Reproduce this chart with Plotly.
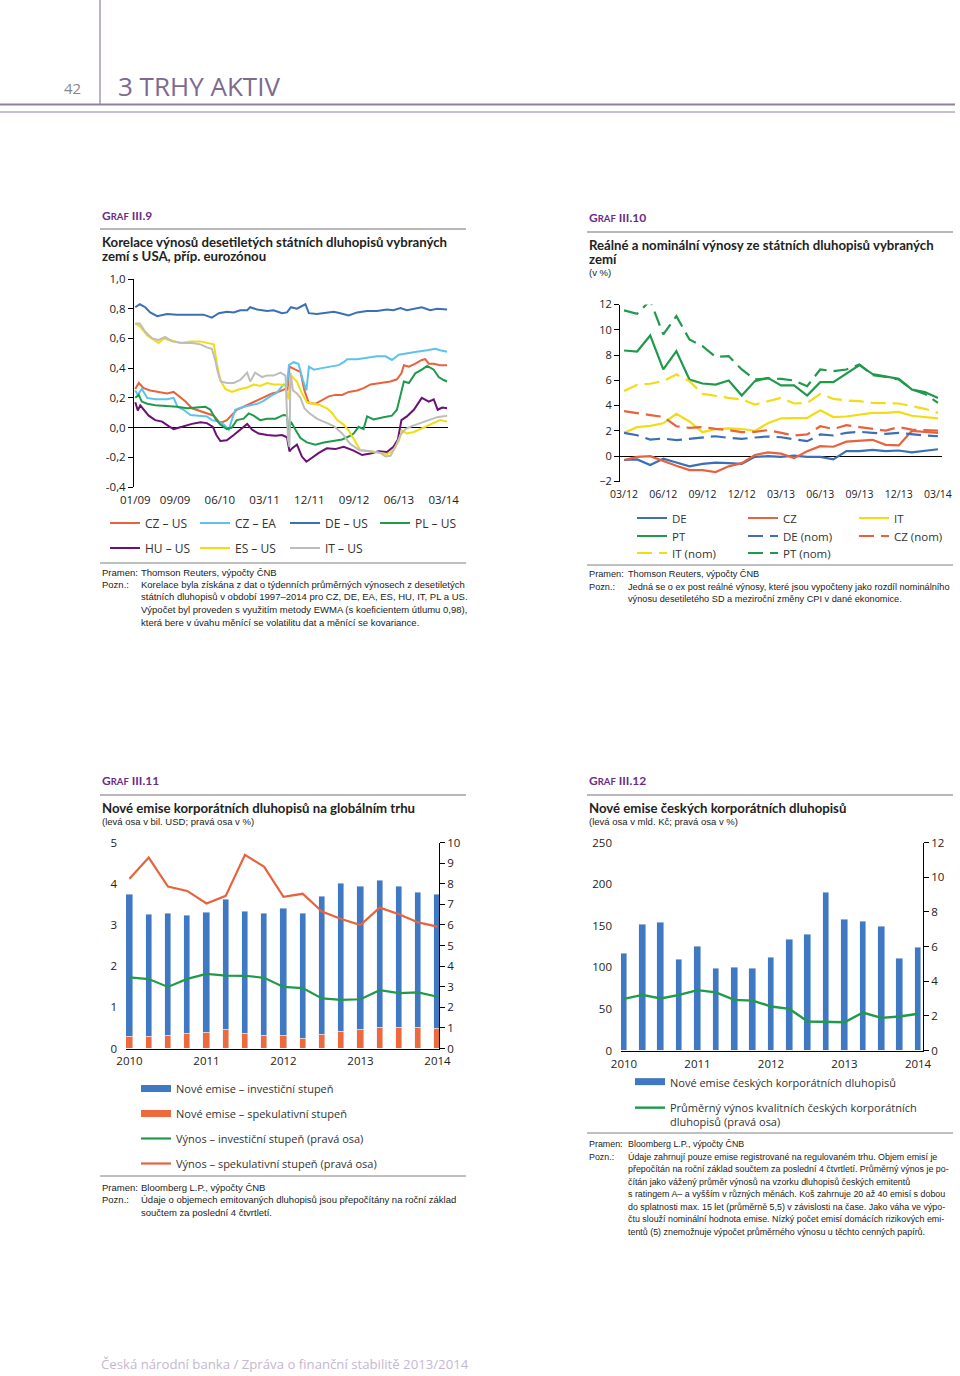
import plotly.graph_objects as go

# ---------------- Graf III.9: correlations (x = months since 01/2009) ----------------
cz_us_m = [0, 0.7, 1.7, 3.0, 4.7, 6.4, 7.7, 8.9, 10.1, 11.4, 13.1, 14.4, 15.8, 16.8, 17.4, 18.4, 19.4, 20.4, 21.8, 23.1, 24.8, 26.1, 27.5, 28.8, 30.2, 30.6, 31.0, 32.2, 33.2, 34.0, 34.9, 36.2, 37.5, 38.9, 40.2, 41.6, 42.9, 44.6, 45.9, 47.3, 49.3, 51.3, 52.6, 53.5, 54.0, 55.0, 56.3, 57.6, 58.3, 59.0, 60.0, 61.3, 62.7]
cz_us = [0.26, 0.30, 0.265, 0.25, 0.24, 0.23, 0.24, 0.21, 0.175, 0.13, 0.11, 0.10, 0.08, 0.04, 0.035, 0.05, 0.085, 0.12, 0.14, 0.16, 0.19, 0.21, 0.23, 0.24, 0.26, 0.25, 0.41, 0.39, 0.375, 0.25, 0.165, 0.16, 0.185, 0.21, 0.22, 0.22, 0.24, 0.25, 0.265, 0.29, 0.30, 0.31, 0.325, 0.365, 0.42, 0.41, 0.43, 0.455, 0.46, 0.43, 0.43, 0.42, 0.42]

cz_ea_m = [0, 0.5, 1.3, 2.4, 4.0, 6.4, 7.7, 8.5, 9.7, 11.1, 12.7, 14.4, 15.4, 16.8, 17.8, 18.8, 19.4, 20.1, 21.8, 23.1, 24.5, 25.8, 27.1, 28.5, 29.8, 30.5, 30.9, 31.8, 32.8, 33.7, 34.4, 34.9, 35.9, 37.5, 39.2, 40.9, 41.9, 42.6, 44.6, 46.6, 48.6, 50.3, 51.6, 53.0, 54.6, 56.6, 58.7, 60.3, 61.3, 62.7]
cz_ea = [0.25, 0.22, 0.26, 0.20, 0.19, 0.19, 0.20, 0.14, 0.12, 0.085, 0.08, 0.075, 0.05, 0.04, 0.02, -0.015, 0.05, 0.12, 0.14, 0.15, 0.16, 0.18, 0.21, 0.235, 0.29, 0.28, 0.42, 0.44, 0.43, 0.32, 0.25, 0.41, 0.39, 0.40, 0.41, 0.42, 0.44, 0.46, 0.46, 0.47, 0.48, 0.48, 0.455, 0.49, 0.50, 0.51, 0.52, 0.53, 0.52, 0.51]

de_us_m = [0, 0.9, 2.0, 3.0, 4.4, 5.4, 6.4, 8.4, 10.4, 12.4, 13.7, 15.4, 16.8, 18.4, 19.8, 21.1, 22.5, 23.1, 24.5, 26.5, 27.8, 29.5, 30.5, 31.3, 32.5, 34.2, 34.9, 36.5, 38.5, 39.9, 41.2, 42.9, 44.6, 46.6, 48.6, 50.6, 51.9, 53.3, 54.6, 56.3, 57.6, 59.3, 60.7, 62.7]
de_us = [0.81, 0.83, 0.81, 0.775, 0.75, 0.76, 0.765, 0.76, 0.76, 0.765, 0.76, 0.74, 0.77, 0.78, 0.775, 0.79, 0.79, 0.81, 0.795, 0.785, 0.79, 0.77, 0.775, 0.81, 0.80, 0.83, 0.77, 0.765, 0.775, 0.78, 0.77, 0.755, 0.775, 0.785, 0.785, 0.795, 0.79, 0.805, 0.79, 0.80, 0.81, 0.79, 0.80, 0.795]

pl_us_m = [0, 0.7, 1.3, 2.4, 4.0, 6.4, 8.4, 10.4, 12.4, 14.1, 15.1, 16.1, 17.1, 18.4, 19.4, 20.4, 21.8, 22.8, 23.8, 25.1, 26.5, 28.2, 29.8, 30.5, 30.8, 31.3, 32.2, 33.2, 34.5, 36.2, 37.9, 39.9, 41.6, 42.9, 43.9, 44.9, 45.9, 46.6, 47.9, 49.9, 51.6, 52.6, 53.2, 54.0, 55.0, 56.3, 57.6, 58.7, 60.0, 61.0, 62.0, 62.7]
pl_us = [0.20, 0.22, 0.175, 0.16, 0.15, 0.145, 0.14, 0.13, 0.135, 0.14, 0.12, 0.06, 0.02, -0.01, 0.00, 0.05, 0.06, 0.095, 0.08, 0.05, 0.06, 0.06, 0.085, 0.08, -0.04, 0.04, -0.015, -0.07, -0.10, -0.115, -0.10, -0.09, -0.08, -0.06, -0.04, 0.005, -0.01, 0.075, 0.055, 0.07, 0.08, 0.12, 0.21, 0.31, 0.30, 0.365, 0.39, 0.415, 0.39, 0.34, 0.32, 0.31]

hu_us_m = [0, 0.5, 1.0, 1.7, 2.7, 4.0, 5.4, 6.7, 7.7, 9.4, 11.4, 13.1, 14.4, 15.6, 16.3, 17.1, 18.4, 19.8, 21.1, 22.5, 23.5, 24.8, 26.5, 28.2, 29.5, 30.5, 31.0, 31.5, 32.5, 33.5, 34.4, 35.5, 36.9, 38.5, 40.2, 41.9, 43.9, 45.6, 47.3, 48.9, 50.6, 51.9, 52.8, 53.5, 54.6, 56.0, 57.0, 57.6, 59.0, 60.0, 60.8, 61.7, 62.7]
hu_us = [0.17, 0.115, 0.15, 0.12, 0.08, 0.05, 0.04, 0.01, -0.01, 0.005, 0.025, 0.035, 0.03, 0.005, -0.05, -0.09, -0.085, -0.05, -0.015, 0.025, -0.015, -0.04, -0.05, -0.055, -0.05, -0.065, -0.16, -0.14, -0.115, -0.195, -0.23, -0.205, -0.17, -0.14, -0.145, -0.13, -0.155, -0.185, -0.175, -0.16, -0.165, -0.13, -0.08, 0.05, 0.075, 0.12, 0.175, 0.20, 0.175, 0.19, 0.12, 0.135, 0.13]

es_us_m = [0, 1.0, 2.4, 3.7, 4.7, 5.7, 7.0, 9.1, 11.1, 13.1, 14.4, 15.8, 16.4, 17.1, 18.1, 19.4, 21.1, 22.5, 23.8, 25.1, 26.5, 27.8, 29.2, 30.2, 30.8, 31.3, 32.5, 33.5, 34.5, 35.9, 37.2, 38.5, 39.5, 40.6, 41.9, 42.9, 43.9, 45.2, 47.3, 49.3, 50.6, 51.9, 53.0, 53.6, 54.6, 56.0, 57.3, 59.3, 61.3, 62.7]
es_us = [0.70, 0.68, 0.62, 0.59, 0.57, 0.60, 0.59, 0.57, 0.58, 0.58, 0.57, 0.56, 0.43, 0.32, 0.26, 0.24, 0.26, 0.27, 0.29, 0.28, 0.30, 0.29, 0.29, 0.28, 0.19, 0.35, 0.31, 0.23, 0.17, 0.16, 0.15, 0.13, 0.10, 0.05, 0.02, -0.02, -0.08, -0.15, -0.16, -0.17, -0.18, -0.15, -0.09, -0.02, -0.04, -0.03, -0.01, 0.02, 0.05, 0.04]

it_us_m = [0, 0.9, 2.0, 3.4, 4.7, 6.0, 7.4, 9.4, 11.4, 13.1, 14.4, 15.4, 16.1, 16.6, 17.2, 18.4, 19.8, 21.1, 22.5, 23.1, 24.1, 25.5, 26.5, 27.8, 29.2, 30.2, 30.7, 31.0, 31.2, 31.7, 32.5, 33.2, 34.0, 34.9, 36.5, 38.5, 39.9, 41.6, 43.2, 45.2, 47.3, 49.3, 50.3, 51.3, 52.3, 53.3, 54.3, 55.6, 57.3, 59.3, 60.7, 62.7]
it_us = [0.70, 0.70, 0.645, 0.60, 0.59, 0.61, 0.58, 0.57, 0.57, 0.56, 0.54, 0.53, 0.45, 0.37, 0.31, 0.30, 0.30, 0.32, 0.37, 0.31, 0.37, 0.34, 0.35, 0.35, 0.37, 0.35, -0.08, -0.13, 0.37, 0.25, 0.23, 0.20, 0.13, 0.10, 0.06, 0.03, 0.01, -0.04, -0.11, -0.155, -0.16, -0.17, -0.195, -0.19, -0.13, -0.05, -0.01, 0.01, 0.03, 0.05, 0.07, 0.08]

g9_tickvals = [0, 8, 17, 26, 35, 44, 53, 62]
g9_ticktext = ["01/09", "09/09", "06/10", "03/11", "12/11", "09/12", "06/13", "03/14"]
g9_yvals = [-0.4, -0.2, 0.0, 0.2, 0.4, 0.6, 0.8, 1.0]
g9_ytext = ["-0,4", "-0,2", "0,0", "0,2", "0,4", "0,6", "0,8", "1,0"]

# ---------------- Graf III.10: real / nominal yields (monthly) ----------------
g10_months = ["03/12", "04/12", "05/12", "06/12", "07/12", "08/12", "09/12", "10/12", "11/12", "12/12",
              "01/13", "02/13", "03/13", "04/13", "05/13", "06/13", "07/13", "08/13", "09/13", "10/13",
              "11/13", "12/13", "01/14", "02/14", "03/14"]
de_real = [-0.3, -0.25, -0.7, -0.2, -0.5, -0.8, -0.6, -0.5, -0.55, -0.6, -0.05, 0.0, -0.05, 0.05, -0.05, -0.05, -0.25, 0.4, 0.4, 0.5, 0.4, 0.45, 0.3, 0.4, 0.55]
cz_real = [-0.3, -0.05, 0.0, -0.4, -0.75, -1.1, -1.1, -1.25, -0.8, -0.55, 0.1, 0.3, 0.2, -0.15, 0.4, 0.8, 0.75, 1.15, 1.2, 1.3, 0.9, 0.85, 2.0, 1.9, 1.85]
it_real = [1.85, 2.3, 2.4, 2.6, 3.35, 2.75, 1.9, 2.15, 2.2, 2.15, 2.0, 2.6, 3.0, 3.0, 3.03, 3.64, 3.1, 3.14, 3.3, 3.43, 3.43, 3.5, 3.2, 3.1, 3.0]
pt_real = [8.36, 8.28, 9.55, 6.86, 8.31, 6.07, 5.75, 5.67, 5.99, 4.8, 5.94, 6.2, 5.6, 5.6, 4.8, 5.86, 5.86, 6.5, 7.2, 6.5, 6.28, 6.12, 5.28, 5.07, 4.6]
de_nom = [1.85, 1.66, 1.32, 1.4, 1.27, 1.37, 1.53, 1.58, 1.45, 1.37, 1.48, 1.56, 1.5, 1.32, 1.19, 1.72, 1.64, 1.85, 1.93, 1.85, 1.77, 1.85, 1.72, 1.64, 1.58]
cz_nom = [3.56, 3.43, 3.25, 3.11, 2.37, 2.24, 2.3, 2.16, 2.06, 1.9, 1.93, 2.06, 1.85, 1.64, 1.72, 2.37, 2.16, 2.45, 2.3, 2.16, 2.03, 2.3, 2.11, 2.06, 2.03]
it_nom = [5.15, 5.65, 5.73, 5.94, 6.46, 5.94, 4.93, 4.75, 4.62, 4.49, 4.09, 4.35, 4.62, 4.17, 4.22, 4.93, 4.54, 4.41, 4.35, 4.22, 4.22, 4.17, 3.96, 3.75, 3.43]
pt_nom = [11.53, 11.27, 12.32, 9.63, 11.08, 9.23, 8.71, 7.86, 7.92, 6.86, 6.07, 6.15, 6.12, 5.99, 5.54, 6.86, 6.73, 6.86, 7.26, 6.41, 6.28, 6.07, 5.28, 4.93, 4.22]
g10_tickvals = ["03/12", "06/12", "09/12", "12/12", "03/13", "06/13", "09/13", "12/13", "03/14"]

# ---------------- Graf III.11 / III.12: quarterly ----------------
quarters = ["1Q10", "2Q10", "3Q10", "4Q10", "1Q11", "2Q11", "3Q11", "4Q11", "1Q12", "2Q12", "3Q12", "4Q12",
            "1Q13", "2Q13", "3Q13", "4Q13", "1Q14"]
year_ticks = ["1Q10", "1Q11", "1Q12", "1Q13", "1Q14"]
year_labels = ["2010", "2011", "2012", "2013", "2014"]

glob_spec = [0.28, 0.29, 0.32, 0.36, 0.40, 0.45, 0.37, 0.31, 0.32, 0.25, 0.33, 0.42, 0.45, 0.52, 0.52, 0.52, 0.49]
glob_inv = [3.47, 2.97, 2.96, 2.86, 2.91, 3.17, 2.95, 2.97, 3.09, 3.02, 3.35, 3.58, 3.48, 3.56, 3.41, 3.26, 3.26]
yield_inv = [3.45, 3.37, 2.99, 3.38, 3.62, 3.54, 3.53, 3.43, 2.99, 2.93, 2.43, 2.36, 2.39, 2.83, 2.69, 2.72, 2.51]
yield_spec = [8.24, 9.27, 7.86, 7.65, 7.04, 7.41, 9.40, 8.82, 7.36, 7.51, 6.65, 6.29, 5.99, 6.84, 6.52, 6.12, 5.92]

cz_issues = [116, 151, 154, 109, 125, 98, 100, 99, 112, 133, 140, 190, 157, 155, 149, 110, 124]
cz_yield = [2.98, 3.21, 3.0, 3.21, 3.48, 3.35, 2.92, 2.88, 2.54, 2.40, 1.67, 1.63, 1.63, 2.19, 1.88, 1.96, 2.12]

# ---------------- styling ----------------
W, H = 960, 1376
def px(x): return x / W
def py(y): return 1 - y / H

SANS = "Open Sans, Noto Sans, sans-serif"
TITLE = "Lato, Open Sans, sans-serif"
NOTE = "Liberation Sans, Arial, sans-serif"
PURPLE = "#6b2c87"

C_RED = "#e8633d"
C_LBLUE = "#5ec2ea"
C_BLUE = "#3b6fb6"
C_GREEN = "#1f9a4b"
C_PURP = "#6a1077"
C_YEL = "#f2dc12"
C_GREY = "#bdbdbd"
C_BAR = "#3f78c3"
C_ORANGE = "#ee6a3c"
DASH = "15px,7px"

fig = go.Figure()

# Graf III.9
g9 = [("CZ – US", cz_us_m, cz_us, C_RED, "legend"),
      ("CZ – EA", cz_ea_m, cz_ea, C_LBLUE, "legend"),
      ("DE – US", de_us_m, de_us, C_BLUE, "legend"),
      ("PL – US", pl_us_m, pl_us, C_GREEN, "legend"),
      ("HU – US", hu_us_m, hu_us, C_PURP, "legend2"),
      ("ES – US", es_us_m, es_us, C_YEL, "legend2"),
      ("IT – US", it_us_m, it_us, C_GREY, "legend2")]
for name, xs, ys, col, lg in g9:
    fig.add_trace(go.Scatter(x=xs, y=ys, name=name, mode="lines", line=dict(color=col, width=2),
                             xaxis="x", yaxis="y", legend=lg, hoverinfo="skip"))

# Graf III.10
g10 = [("DE", de_real, C_BLUE, "solid", "legend3"),
       ("CZ", cz_real, C_RED, "solid", "legend3"),
       ("IT", it_real, C_YEL, "solid", "legend3"),
       ("PT", pt_real, C_GREEN, "solid", "legend4"),
       ("DE (nom)", de_nom, C_BLUE, DASH, "legend4"),
       ("CZ (nom)", cz_nom, C_RED, DASH, "legend4"),
       ("IT (nom)", it_nom, C_YEL, DASH, "legend5"),
       ("PT (nom)", pt_nom, C_GREEN, DASH, "legend5")]
for name, ys, col, dash, lg in g10:
    fig.add_trace(go.Scatter(x=g10_months, y=ys, name=name, mode="lines",
                             line=dict(color=col, width=2.2, dash=dash),
                             xaxis="x2", yaxis="y2", legend=lg, hoverinfo="skip"))

# Graf III.11
fig.add_trace(go.Bar(x=quarters, y=glob_spec, marker_color=C_ORANGE, width=0.32, showlegend=False,
                     xaxis="x3", yaxis="y3", name="Nové emise – spekulativní stupeň"))
fig.add_trace(go.Bar(x=quarters, y=glob_inv, marker_color=C_BAR, width=0.32, showlegend=False,
                     xaxis="x3", yaxis="y3", name="Nové emise – investiční stupeň"))
fig.add_trace(go.Scatter(x=[None], y=[None], mode="lines", line=dict(color=C_BAR, width=7),
                         name="Nové emise – investiční stupeň", xaxis="x3", yaxis="y3",
                         legend="legend6", legendgroup="a"))
fig.add_trace(go.Scatter(x=[None], y=[None], mode="lines", line=dict(color=C_ORANGE, width=7),
                         name="Nové emise – spekulativní stupeň", xaxis="x3", yaxis="y3",
                         legend="legend6", legendgroup="b"))
fig.add_trace(go.Scatter(x=quarters, y=yield_inv, mode="lines", line=dict(color=C_GREEN, width=2.2),
                         name="Výnos – investiční stupeň (pravá osa)", xaxis="x3", yaxis="y4",
                         legend="legend6", legendgroup="c"))
fig.add_trace(go.Scatter(x=quarters, y=yield_spec, mode="lines", line=dict(color=C_RED, width=2.2),
                         name="Výnos – spekulativní stupeň (pravá osa)", xaxis="x3", yaxis="y4",
                         legend="legend6", legendgroup="d"))

# Graf III.12
fig.add_trace(go.Bar(x=quarters, y=cz_issues, marker_color=C_BAR, width=0.36, showlegend=False,
                     xaxis="x4", yaxis="y5", name="Nové emise českých korporátních dluhopisů"))
fig.add_trace(go.Scatter(x=[None], y=[None], mode="lines", line=dict(color=C_BAR, width=7),
                         name="Nové emise českých korporátních dluhopisů", xaxis="x4", yaxis="y5",
                         legend="legend7", legendgroup="e"))
fig.add_trace(go.Scatter(x=quarters, y=cz_yield, mode="lines", line=dict(color=C_GREEN, width=2.4),
                         name="Průměrný výnos kvalitních českých korporátních<br>dluhopisů (pravá osa)",
                         xaxis="x4", yaxis="y6", legend="legend7", legendgroup="f"))

# ---------------- axes ----------------
tick = dict(family=SANS, color="#222")
common = dict(showgrid=False, fixedrange=True)

layout = dict(
    width=W, height=H, margin=dict(l=0, r=0, t=0, b=0, autoexpand=False),
    paper_bgcolor="white", plot_bgcolor="white", barmode="stack", bargap=0,
    hovermode=False,
    xaxis=dict(domain=[px(134), px(447.5)], range=[-0.26, 62.77], anchor="y", tickmode="array",
               tickvals=g9_tickvals, ticktext=g9_ticktext, ticks="", showline=False, zeroline=False,
               ticklabelstandoff=4, tickfont=dict(size=11.5, **tick), **common),
    yaxis=dict(domain=[py(487), py(279)], range=[-0.4, 1.0], anchor="x", tickmode="array",
               tickvals=g9_yvals, ticktext=g9_ytext, ticks="outside", ticklen=5, tickcolor="#000",
               showline=True, linecolor="#000", linewidth=1, zeroline=True, zerolinecolor="#000",
               zerolinewidth=1, tickfont=dict(size=11.5, **tick), **common),
    xaxis2=dict(domain=[px(620), px(942)], range=[-0.31, 24.31], anchor="y2", type="category",
                tickmode="array", tickvals=g10_tickvals, ticktext=g10_tickvals, ticks="",
                showline=False, zeroline=False, ticklabelstandoff=5,
                tickfont=dict(size=10.5, **tick), **common),
    yaxis2=dict(domain=[py(481.5), py(304.5)], range=[-2, 12], anchor="x2", dtick=2,
                ticks="outside", ticklen=5, tickcolor="#000", showline=True, linecolor="#000",
                linewidth=1, zeroline=True, zerolinecolor="#000", zerolinewidth=1,
                tickfont=dict(size=11, **tick), **common),
    xaxis3=dict(domain=[px(126), px(439)], range=[-0.18, 16.08], anchor="y3", type="category",
                tickmode="array", tickvals=year_ticks, ticktext=year_labels, ticks="",
                showline=True, linecolor="#000", linewidth=1, zeroline=False, ticklabelstandoff=2,
                tickfont=dict(size=11.5, **tick), **common),
    yaxis3=dict(domain=[py(1048.5), py(842.5)], range=[0, 5], dtick=1, anchor="x3", ticks="",
                showline=False, zeroline=False, ticklabelstandoff=8,
                tickfont=dict(size=11.5, **tick), **common),
    yaxis4=dict(range=[0, 10], dtick=1, overlaying="y3", side="right", anchor="x3",
                ticks="outside", ticklen=5, tickcolor="#000", showline=True, linecolor="#000",
                linewidth=1, zeroline=False, tickfont=dict(size=11.5, **tick), **common),
    xaxis4=dict(domain=[px(621), px(923)], range=[-0.163, 16.27], anchor="y5", type="category",
                tickmode="array", tickvals=year_ticks, ticktext=year_labels, ticks="",
                showline=True, linecolor="#000", linewidth=1, zeroline=False, ticklabelstandoff=3,
                tickfont=dict(size=11.5, **tick), **common),
    yaxis5=dict(domain=[py(1050.5), py(842.5)], range=[0, 250], dtick=50, anchor="x4", ticks="",
                showline=False, zeroline=False, ticklabelstandoff=8,
                tickfont=dict(size=11.5, **tick), **common),
    yaxis6=dict(range=[0, 12], dtick=2, overlaying="y5", side="right", anchor="x4",
                ticks="outside", ticklen=5, tickcolor="#000", showline=True, linecolor="#000",
                linewidth=1, zeroline=False, tickfont=dict(size=11.5, **tick), **common),
)

def leg(x, y, yanchor="middle", orientation="h", entrywidth=None, size=12, gap=0, valign="middle"):
    d = dict(x=px(x), y=py(y), xanchor="left", yanchor=yanchor, orientation=orientation,
             font=dict(family=SANS, size=size, color="#333"), bgcolor="rgba(0,0,0,0)",
             borderwidth=0, tracegroupgap=gap, valign=valign,
             traceorder="grouped" if orientation == "v" else "normal",
             itemclick=False, itemdoubleclick=False)
    if entrywidth:
        d.update(entrywidth=entrywidth, entrywidthmode="pixels")
    return d

layout["legend"] = leg(105, 523, entrywidth=45)
layout["legend2"] = leg(105, 548, entrywidth=45)
layout["legend3"] = leg(632, 518, entrywidth=66, size=11.5)
layout["legend4"] = leg(632, 536, entrywidth=66, size=11.5)
layout["legend5"] = leg(632, 553, entrywidth=66, size=11.5)
layout["legend6"] = leg(136, 1074, yanchor="top", orientation="v", gap=6, size=11)
layout["legend7"] = leg(630, 1068, yanchor="top", orientation="v", gap=7, size=11, valign="top")

# ---------------- text & rules ----------------
ann = []
def T(x, y, text, size=12, color="#222", family=SANS, anchor="left"):
    ann.append(dict(x=px(x), y=py(y), xref="paper", yref="paper", text=text, showarrow=False,
                    xanchor=anchor, yanchor="middle", align="left",
                    font=dict(size=size, color=color, family=family)))

shapes = []
def HL(x0, x1, y, color, width):
    shapes.append(dict(type="line", xref="paper", yref="paper", x0=px(x0), x1=px(x1),
                       y0=py(y), y1=py(y), line=dict(color=color, width=width)))

# page header
shapes.append(dict(type="line", xref="paper", yref="paper", x0=px(100), x1=px(100),
                   y0=py(0), y1=py(104), line=dict(color="#8f7fa3", width=1.2)))
HL(0, 955, 104.5, "#8f7fa3", 2)
HL(0, 955, 112, "#8f7fa3", 1)
T(83, 88, "42", size=15, color="#888", anchor="right")
T(116, 86, "3 TRHY AKTIV", size=26, color="#7c6a90")

def graf(x, y, num):
    T(x, y, "<b>G<span style='font-size:9.5px'>RAF</span> " + num + "</b>", size=12,
      color=PURPLE, family=TITLE)

TS = 13.2
# Graf III.9 texts
graf(100, 215, "III.9")
HL(100, 466, 229, "#a0a0a0", 1.5)
T(100, 242, "<b>Korelace výnosů desetiletých státních dluhopisů vybraných</b>", size=TS, family=TITLE)
T(100, 256, "<b>zemí s USA, příp. eurozónou</b>", size=TS, family=TITLE)
HL(100, 466, 563, "#808080", 1)

def notes(x, xt, y0, src, lines, step=12.5, size=9.3):
    T(x, y0, "Pramen:", size=size, family=NOTE)
    T(xt, y0, src, size=size, family=NOTE)
    T(x, y0 + step, "Pozn.:", size=size, family=NOTE)
    for i, ln in enumerate(lines):
        T(xt, y0 + step * (i + 1), ln, size=size, family=NOTE)

notes(100, 139, 572, "Thomson Reuters, výpočty ČNB",
      ["Korelace byla získána z dat o týdenních průměrných výnosech z desetiletých",
       "státních dluhopisů v období 1997–2014 pro CZ, DE, EA, ES, HU, IT, PL a US.",
       "Výpočet byl proveden s využitím metody EWMA (s koeficientem útlumu 0,98),",
       "která bere v úvahu měnící se volatilitu dat a měnící se kovariance."], size=9.5)

# Graf III.10 texts
graf(587, 218, "III.10")
HL(587, 953, 232, "#a0a0a0", 1.5)
T(587, 245, "<b>Reálné a nominální výnosy ze státních dluhopisů vybraných</b>", size=TS, family=TITLE)
T(587, 259, "<b>zemí</b>", size=TS, family=TITLE)
T(587, 272, "(v %)", size=9.5, family=NOTE)
HL(587, 953, 565, "#808080", 1)
notes(587, 626, 574, "Thomson Reuters, výpočty ČNB",
      ["Jedná se o ex post reálné výnosy, které jsou vypočteny jako rozdíl nominálního",
       "výnosu desetiletého SD a meziroční změny CPI v dané ekonomice."], size=9.2)

# Graf III.11 texts
graf(100, 781, "III.11")
HL(100, 466, 795, "#a0a0a0", 1.5)
T(100, 808, "<b>Nové emise korporátních dluhopisů na globálním trhu</b>", size=TS, family=TITLE)
T(100, 822, "(levá osa v bil. USD; pravá osa v %)", size=9.5, family=NOTE)
HL(100, 466, 1176, "#808080", 1)
notes(100, 139, 1187, "Bloomberg L.P., výpočty ČNB",
      ["Údaje o objemech emitovaných dluhopisů jsou přepočítány na roční základ",
       "součtem za poslední 4 čtvrtletí."], size=9.5)

# Graf III.12 texts
graf(587, 781, "III.12")
HL(587, 953, 795, "#a0a0a0", 1.5)
T(587, 808, "<b>Nové emise českých korporátních dluhopisů</b>", size=TS, family=TITLE)
T(587, 822, "(levá osa v mld. Kč; pravá osa v %)", size=9.5, family=NOTE)
HL(587, 953, 1133, "#808080", 1)
notes(587, 626, 1144, "Bloomberg L.P., výpočty ČNB",
      ["Údaje zahrnují pouze emise registrované na regulovaném trhu. Objem emisí je",
       "přepočítán na roční základ součtem za poslední 4 čtvrtletí. Průměrný výnos je po-",
       "čítán jako vážený průměr výnosů na vzorku dluhopisů českých emitentů",
       "s ratingem A– a vyšším v různých měnách. Koš zahrnuje 20 až 40 emisí s dobou",
       "do splatnosti max. 15 let (průměrně 5,5) v závislosti na čase. Jako váha ve výpo-",
       "čtu slouží nominální hodnota emise. Nízký počet emisí domácích rizikových emi-",
       "tentů (5) znemožnuje výpočet průměrného výnosu u těchto cenných papírů."], size=8.9)

# footer
T(99, 1364, "Česká národní banka / Zpráva o finanční stabilitě 2013/2014", size=13.2, color="#c4b8d0")

layout["annotations"] = ann
layout["shapes"] = shapes
fig.update_layout(**layout)

fig.write_html("out.html", config={"displayModeBar": False},
               post_script="document.body.style.margin='0';document.body.style.overflow='hidden';")
